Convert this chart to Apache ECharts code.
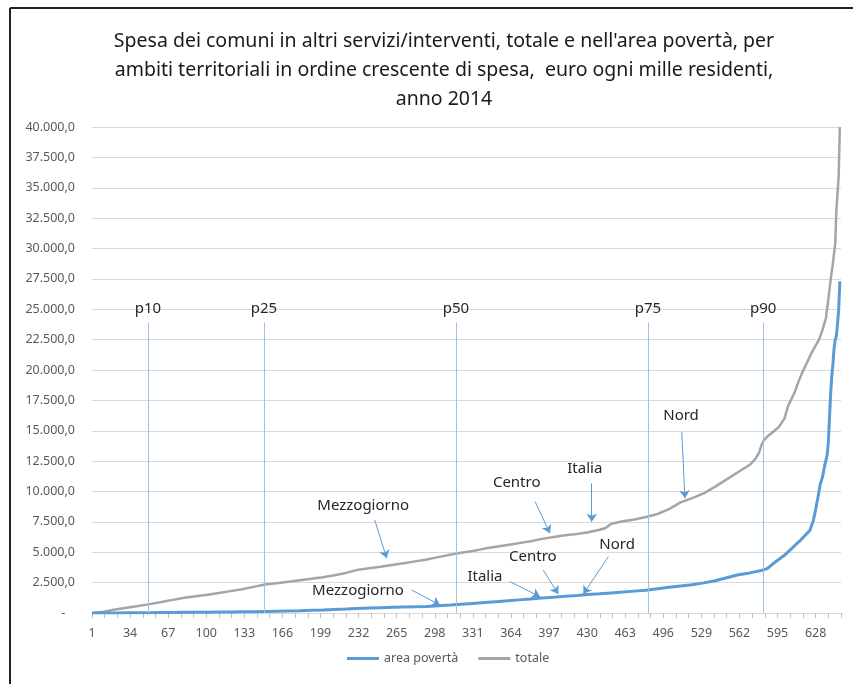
<!DOCTYPE html>
<html>
<head>
<meta charset="utf-8">
<script src="https://cdn.jsdelivr.net/npm/echarts@6/dist/echarts.min.js"></script>
<style>
  html, body { margin: 0; padding: 0; background: #fff; }
  #chart { width: 859px; height: 684px; }
</style>
</head>
<body>
<div id="chart"></div>
<script>
// posizione in graduatoria (0 = primo ambito) e valori
const totaleRank = [0, 10, 20, 30, 40, 50, 60, 70, 80, 90, 100, 110, 120, 130, 140, 150, 160, 170, 180, 190,
  200, 210, 220, 230, 240, 250, 260, 270, 280, 290, 300, 310, 320, 330, 340, 350, 360, 370, 380, 390,
  400, 410, 420, 430, 440, 445, 450, 460, 470, 480, 490, 500, 510, 520, 530, 540, 550, 560, 570, 575,
  578, 580, 582, 585, 590, 595, 600, 603, 606, 609, 612, 615, 618, 621, 624, 627, 630, 633, 636, 638,
  640, 642, 644, 645, 646, 647, 648];
const totaleVal = [0, 100, 280, 430, 580, 730, 900, 1080, 1250, 1380, 1500, 1650, 1800, 1950, 2150, 2350, 2450, 2580, 2700, 2820,
  2950, 3100, 3300, 3550, 3680, 3800, 3950, 4100, 4250, 4400, 4600, 4800, 4950, 5100, 5300, 5450, 5600, 5750, 5900, 6100,
  6250, 6400, 6500, 6650, 6850, 7000, 7350, 7550, 7700, 7900, 8150, 8550, 9100, 9450, 9850, 10400, 11000, 11600, 12200, 12700,
  13200, 13800, 14200, 14500, 14900, 15300, 16000, 17000, 17600, 18200, 19000, 19700, 20300, 20900, 21500, 22000, 22500, 23300, 24300, 25800,
  27400, 28800, 30400, 33200, 34500, 36000, 40000];

const povertaRank = [0, 10, 20, 30, 40, 50, 60, 70, 80, 90, 100, 110, 120, 130, 140, 150, 160, 170, 180, 190,
  200, 210, 220, 230, 240, 250, 260, 270, 280, 290, 300, 310, 320, 330, 340, 350, 360, 370, 380, 390,
  400, 410, 420, 430, 440, 450, 460, 470, 480, 490, 500, 510, 520, 530, 540, 550, 560, 570, 580, 585,
  590, 595, 600, 605, 610, 614, 618, 622, 625, 627, 629, 631, 633, 635, 637, 638, 639, 640, 641, 642,
  643, 644, 645, 646, 647, 648];
const povertaVal = [0, 0, 10, 20, 25, 30, 40, 50, 55, 60, 70, 80, 90, 100, 110, 130, 150, 170, 190, 220,
  250, 290, 330, 380, 410, 440, 470, 500, 520, 540, 590, 650, 720, 790, 860, 930, 1000, 1080, 1150, 1230,
  1300, 1380, 1440, 1520, 1580, 1650, 1720, 1800, 1880, 2000, 2120, 2230, 2330, 2480, 2650, 2900, 3150, 3300, 3500, 3650,
  4050, 4400, 4750, 5200, 5650, 6000, 6400, 6800, 7600, 8500, 9500, 10600, 11200, 12200, 13000, 14000, 16000, 18000, 19500, 20500,
  21800, 22500, 22800, 23800, 25000, 27300];

const percentili = ['p10', 'p25', 'p50', 'p75', 'p90'];
const percentiliRank = [48.5, 149, 315.4, 481.7, 581.5];

// etichette con freccia: [testo, posizione testo, inizio freccia, punta freccia]
const noteTotale = [
  ['Mezzogiorno', [235, 8800], [245, 7650], [255.4, 4500]],
  ['Centro', [368, 10700], [384, 9160], [396.8, 6560]],
  ['Italia', [427, 11850], [433, 10675], [433, 7514]],
  ['Nord', [510.4, 16200], [511, 14900], [513.8, 9440]]
];
const notePoverta = [
  ['Mezzogiorno', [230.5, 1835], [277, 1893], [301.5, 658]],
  ['Italia', [340.5, 2988], [362.2, 2576], [388.2, 1342]],
  ['Centro', [382, 4634], [391, 3539], [404, 1564]],
  ['Nord', [455, 5654], [447.4, 4634], [425.7, 1564]]
];

const FONT = 'Noto Sans';
const chart = echarts.init(document.getElementById('chart'));

const fmt = v => {
  if (v === 0) return '-   ';
  return String(Math.round(v)).replace(/\B(?=(\d{3})+(?!\d))/g, '.') + ',0';
};

const arrows = notes => notes.map(n => [{ coord: n[2] }, { coord: n[3] }]);
const texts = notes => notes.map(n => ({
  coord: n[1], value: n[0], symbol: 'circle', symbolSize: 1,
  itemStyle: { color: 'rgba(0,0,0,0)' },
  label: { show: true, position: 'inside', formatter: n[0], color: '#262626', fontSize: 15, fontFamily: FONT }
}));

const option = {
  animation: false,
  backgroundColor: '#fff',
  title: {
    text: "Spesa dei comuni in altri servizi/interventi, totale e nell'area povertà, per\nambiti territoriali in ordine crescente di spesa,  euro ogni mille residenti,\nanno 2014",
    left: 439,
    top: 22,
    textAlign: 'center',
    textStyle: { fontFamily: FONT, fontSize: 19.5, fontWeight: 'normal', color: '#1a1a1a', lineHeight: 29, align: 'center' }
  },
  grid: { left: 92, right: 18, top: 127, bottom: 71 },
  legend: {
    bottom: 14,
    left: 342,
    icon: 'rect',
    itemWidth: 32,
    itemHeight: 3,
    itemGap: 20,
    textStyle: { fontFamily: FONT, fontSize: 12.5, color: '#595959' },
    data: ['area povertà', 'totale']
  },
  xAxis: {
    type: 'value',
    min: 0,
    max: 649,
    interval: 33,
    axisLine: { lineStyle: { color: '#D9D9D9' } },
    axisTick: { show: true, length: 5, lineStyle: { color: '#BFBFBF' } },
    minorTick: { show: true, splitNumber: 3, length: 5, lineStyle: { color: '#BFBFBF' } },
    splitLine: { show: false },
    axisLabel: {
      showMaxLabel: false,
      formatter: v => String(v + 1),
      color: '#595959', fontSize: 12.5, fontFamily: FONT, margin: 14
    }
  },
  yAxis: {
    type: 'value',
    min: 0,
    max: 40000,
    interval: 2500,
    axisLine: { show: false },
    axisTick: { show: false },
    splitLine: { lineStyle: { color: '#D9D9D9' } },
    axisLabel: { formatter: fmt, color: '#595959', fontSize: 12.5, fontFamily: FONT, margin: 17 }
  },
  series: [
    {
      name: 'area povertà',
      type: 'line',
      data: povertaRank.map((r, i) => [r, povertaVal[i]]),
      showSymbol: false,
      lineStyle: { color: '#5B9BD5', width: 3 },
      itemStyle: { color: '#5B9BD5' },
      z: 3,
      markLine: {
        silent: true,
        symbol: ['none', 'arrow'],
        symbolSize: 8,
        lineStyle: { color: '#5B9BD5', width: 1, type: 'solid' },
        label: { show: false },
        data: arrows(notePoverta).concat(arrows(noteTotale))
      },
      markPoint: { silent: true, data: texts(notePoverta).concat(texts(noteTotale)) }
    },
    {
      name: 'totale',
      type: 'line',
      data: totaleRank.map((r, i) => [r, totaleVal[i]]),
      showSymbol: false,
      lineStyle: { color: '#A5A5A5', width: 2.5 },
      itemStyle: { color: '#A5A5A5' },
      z: 2,
      markLine: {
        silent: true,
        symbol: ['none', 'none'],
        lineStyle: { color: '#9DC3E6', width: 1, type: 'solid' },
        label: {
          show: true, position: 'end', formatter: '{b}', distance: 6,
          color: '#262626', fontSize: 15, fontFamily: FONT
        },
        data: percentili.map((p, i) => [
          { name: p, coord: [percentiliRank[i], 0] },
          { coord: [percentiliRank[i], 23900] }
        ])
      }
    }
  ],
  graphic: [
    { type: 'line', shape: { x1: 10, y1: 8, x2: 10, y2: 684 }, style: { stroke: '#222', lineWidth: 2 } },
    { type: 'line', shape: { x1: 10, y1: 8, x2: 853, y2: 8 }, style: { stroke: '#222', lineWidth: 2 } }
  ]
};

chart.setOption(option);
</script>
</body>
</html>
